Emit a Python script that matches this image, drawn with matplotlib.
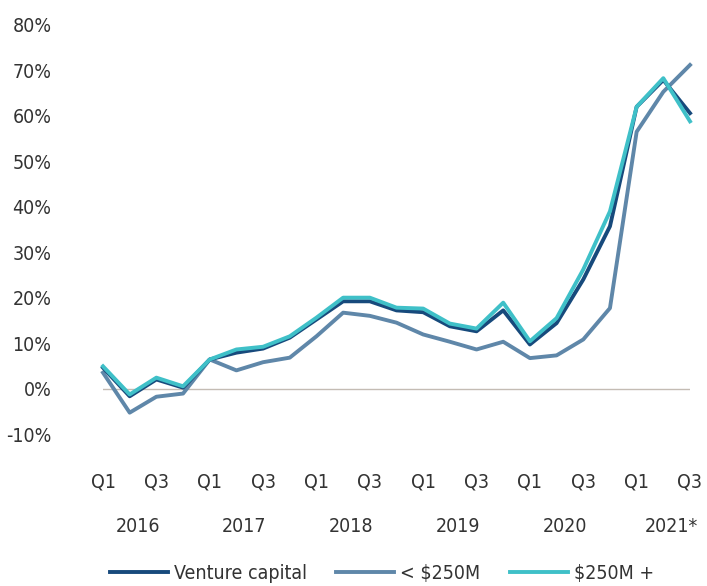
import matplotlib
matplotlib.use("Agg")
import matplotlib.pyplot as plt

plt.rcParams["font.family"] = ["DejaVu Sans"]
plt.rcParams["font.stretch"] = "condensed"

quarters = ["Q1", "Q2", "Q3", "Q4"] * 6
quarters = quarters[:23]
years = ["2016", "2017", "2018", "2019", "2020", "2021*"]

venture = [4.6, -1.7, 2.0, 0.2, 6.4, 7.9, 8.8, 11.2, 15.2, 19.2, 19.2, 17.2,
           16.8, 13.7, 12.6, 17.2, 9.7, 14.4, 24.0, 35.7, 62.0, 67.9, 60.6]
small = [3.5, -5.3, -1.8, -1.1, 6.4, 4.0, 5.8, 6.8, 11.5, 16.7, 16.0, 14.5,
         11.9, 10.3, 8.6, 10.3, 6.7, 7.3, 10.8, 17.7, 56.5, 65.3, 71.2]
large = [4.9, -1.3, 2.4, 0.5, 6.4, 8.6, 9.2, 11.5, 15.6, 20.0, 20.0, 17.8,
         17.6, 14.3, 13.2, 18.9, 10.4, 15.5, 26.2, 39.0, 62.0, 68.3, 58.8]

fig = plt.figure(figsize=(7.07, 5.86), dpi=100)
ax = fig.add_axes([103 / 707, 1 - 434 / 586, 587 / 707, 409 / 586])

x = list(range(len(venture)))
ax.axhline(0, color="#c4bcb4", lw=1, zorder=1)
ax.plot(x, venture, color="#174a7c", lw=2.8, label="Venture capital", clip_on=False, zorder=3)
ax.plot(x, small, color="#5f87a9", lw=2.8, label="< $250M", clip_on=False, zorder=2)
ax.plot(x, large, color="#3fc0c8", lw=2.8, label="$250M +", clip_on=False, zorder=4)

ax.set_xlim(0, 22)
ax.set_ylim(-10, 80)
ax.set_yticks(range(-10, 81, 10))
ax.set_yticklabels([f"{v}%" for v in range(-10, 81, 10)])
ax.get_yticklabels()[0].set_color("#e8553e")

ax.set_xticks([i for i in x if quarters[i] in ("Q1", "Q3")])
ax.set_xticklabels([quarters[i] for i in x if quarters[i] in ("Q1", "Q3")])
for k, yr in enumerate(years):
    ax.text(k * 4 + 1.3, -0.227, yr, transform=ax.get_xaxis_transform(),
            ha="center", va="center", fontsize=14, color="#333333")

ax.tick_params(axis="both", length=0, labelsize=14, colors="#333333")
ax.tick_params(axis="x", pad=28)
ax.tick_params(axis="y", pad=37)
for s in ax.spines.values():
    s.set_visible(False)

fig.legend(loc="lower center", bbox_to_anchor=(0.54, -0.025), ncol=3, frameon=False,
           fontsize=14, handlelength=3.0, handletextpad=0.3, columnspacing=1.5,
           labelcolor="#333333")

fig.savefig("out.png", dpi=100)
